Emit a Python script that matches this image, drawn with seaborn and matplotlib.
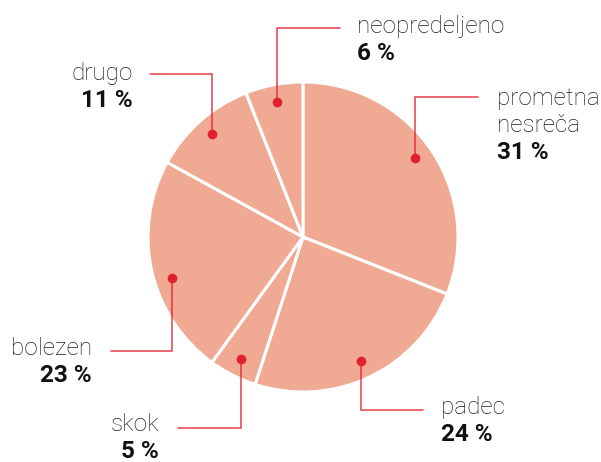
import numpy as np
import matplotlib.pyplot as plt
import seaborn as sns

# podatki
kategorije = ['prometna\nnesreča', 'padec', 'skok', 'bolezen', 'drugo', 'neopredeljeno']
deleži = [31, 24, 5, 23, 11, 6]
oznake = ['31 %', '24 %', '5 %', '23 %', '11 %', '6 %']

sns.set_theme(style='white')
plt.rcParams['font.family'] = ['Roboto', 'DejaVu Sans']

W, H = 601, 462
fig = plt.figure(figsize=(W / 100, H / 100), dpi=100)
ax = fig.add_axes([0, 0, 1, 1])

cx, cy, R = 303, H - 237, 155
barva = '#f0a992'
rdeca = '#e2212f'

wedges, _ = ax.pie(deleži, startangle=90, counterclock=False, center=(cx, cy),
                   radius=R, colors=[barva] * len(deleži),
                   wedgeprops=dict(edgecolor='white', linewidth=2.2))
ax.set_aspect('equal')
ax.set_xlim(0, W)
ax.set_ylim(0, H)
ax.axis('off')

# postavitev: (zamik kota, y kolena, x konca črte, x besedila, y prve osnovnice, poravnava)
postavitev = [
    (1, 97, 478, 497, 105, 'left'),
    (0, 410, 423, 441, 414, 'left'),
    (0, 428, 178, 159, 431, 'right'),
    (5, 351, 111, 92, 355, 'right'),
    (0, 74, 150, 133, 80, 'right'),
    (0, 28, 340, 357, 33, 'left'),
]

for w, ime, pct, (dk, ky, ex, tx, ty, ha) in zip(wedges, kategorije, oznake, postavitev):
    kot = np.deg2rad((w.theta1 + w.theta2) / 2 + dk)
    px = cx + 0.885 * R * np.cos(kot)
    py = cy + 0.885 * R * np.sin(kot)
    ax.plot([px, px, ex], [py, H - ky, H - ky], color=rdeca, lw=1.2, alpha=0.8,
            solid_joinstyle='miter')
    ax.plot(px, py, 'o', color=rdeca, ms=7, mec='none')
    vrstice = ime.split('\n')
    for i, v in enumerate(vrstice):
        ax.text(tx, H - ty - 27 * i, v, ha=ha, va='baseline', fontsize=17.5,
                fontweight='light', color='#1e1e1e')
    ax.text(tx, H - ty - 27 * len(vrstice), pct, ha=ha, va='baseline',
            fontsize=17.5, fontweight='bold', color='#111111')

fig.savefig('out.png', dpi=100)
